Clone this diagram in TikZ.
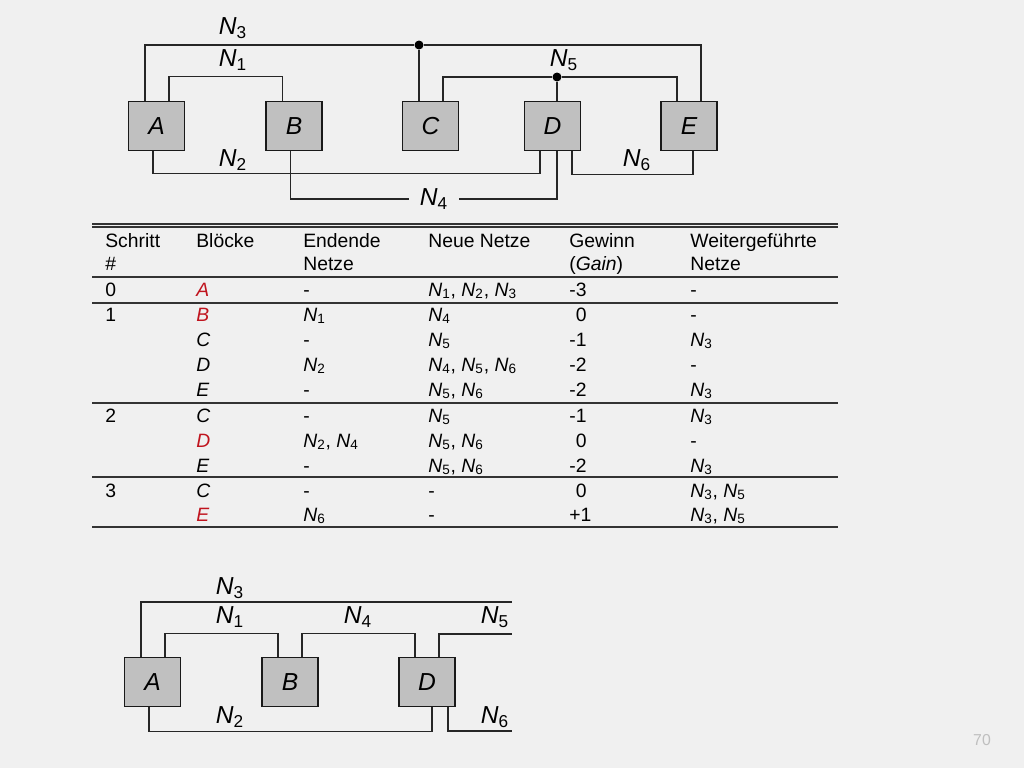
\documentclass[tikz,border=0pt]{standalone}
\usepackage{fontspec}
\setmainfont{Liberation Sans}
\usepackage{xcolor}
\usepackage{tikz}

\definecolor{bg}{RGB}{240,240,240}
\definecolor{blockgray}{RGB}{192,192,192}
\definecolor{hl}{RGB}{192,20,30}
\newcommand{\net}[1]{\textit{N}\textsubscript{#1}}

\begin{document}
\begin{tikzpicture}[x=0.02cm, y=-0.02cm,
  block/.style={draw=black!90, line width=1.1pt, fill=blockgray, minimum width=1.12cm,
    minimum height=0.98cm, inner sep=0pt, font=\fontsize{14}{16}\selectfont\itshape},
  wire/.style={line width=0.6pt, black!85},
  lbl/.style={inner sep=1pt, font=\fontsize{14}{16}\selectfont},
  cell/.style={anchor=base west, inner sep=0pt, font=\fontsize{11}{13}\selectfont},
  rule/.style={line width=0.8pt, black!80},
  dot/.style={circle, fill=black, inner sep=0pt, minimum size=0.18cm}]
  \fill[bg] (0,0) rectangle (1024,768);

  % Blocks (full netlist)
  \foreach \n/\x in {A/156.5,B/294,C/430.5,D/552.5,E/689}{
    \node[block] (\n) at (\x,126) {\n};
  }
  \node[dot] (j3) at (419,45) {};
  \node[dot] (j5) at (557,77) {};

  % Nets
  \draw[wire] ([xshift=-.23cm]A.north) |- (j3) -| ([xshift=.24cm]E.north);
  \draw[wire] (C.north -| j3) -- (j3);
  \draw[wire] ([xshift=.25cm]A.north) -- ++(0,.48cm) -| ([xshift=-.23cm]B.north);
  \draw[wire] ([xshift=.25cm]C.north) |- (j5) -| ([xshift=-.24cm]E.north);
  \draw[wire] (D.north -| j5) -- (j5);
  \draw[wire] ([xshift=-.07cm]A.south) -- ++(0,-.44cm) -| ([xshift=-.25cm]D.south);
  \node[lbl, inner xsep=6pt] (n4) at (434,199) {\net{4}};
  \draw[wire] ([xshift=-.07cm]B.south) |- (n4.west);
  \draw[wire] (n4.east) -| ([xshift=.09cm]D.south);
  \draw[wire] ([xshift=.39cm]D.south) -- ++(0,-.46cm) -| ([xshift=.08cm]E.south);

  % Net labels
  \node[lbl] (n3) at (233,28) {\net{3}};
  \node[lbl] (n1) at (233,60) {\net{1}};
  \node[lbl] (n5) at (564,60) {\net{5}};
  \node[lbl] (n2) at (233,160) {\net{2}};
  \node[lbl] (n6) at (637,160) {\net{6}};

  % Table
  \draw[rule] (92,224) -- (838,224);
  \draw[rule] (92,227) -- (838,227);
  \foreach \y in {277,303,403,477}{
    \draw[rule] (92,\y) -- (838,\y);
  }
  \draw[rule, line width=1.1pt] (92,527) -- (838,527);

  \node[cell] (h1) at (105,247) {Schritt};
  \node[cell] (h1b) at (105,270) {\#};
  \node[cell] (h2) at (196,247) {Blöcke};
  \node[cell] (h3) at (303,247) {Endende};
  \node[cell] (h3b) at (303,270) {Netze};
  \node[cell] (h4) at (428,247) {Neue Netze};
  \node[cell] (h5) at (569,247) {Gewinn};
  \node[cell] (h5b) at (569,270) {(\textit{Gain})};
  \node[cell] (h6) at (690,247) {Weitergeführte};
  \node[cell] (h6b) at (690,270) {Netze};

  \foreach \y/\s/\b/\e/\w/\g/\k in {
    296/0/{\color{hl}A}/-/{\net1, \net2, \net3}/-3/-,
    321/1/{\color{hl}B}/\net1/\net4/{\phantom{-}0}/-,
    346//C/-/\net5/-1/\net3,
    371//D/\net2/{\net4, \net5, \net6}/-2/-,
    396//E/-/{\net5, \net6}/-2/\net3,
    422/2/C/-/\net5/-1/\net3,
    447//{\color{hl}D}/{\net2, \net4}/{\net5, \net6}/{\phantom{-}0}/-,
    472//E/-/{\net5, \net6}/-2/\net3,
    497/3/C/-/-/{\phantom{-}0}/{\net3, \net5},
    521//{\color{hl}E}/\net6/-/+1/{\net3, \net5}}{
    \node[cell] (s\y) at (105,\y) {\s};
    \node[cell] (b\y) at (196,\y) {\textit{\b}};
    \node[cell] (e\y) at (303,\y) {\e};
    \node[cell] (w\y) at (428,\y) {\w};
    \node[cell] (g\y) at (569,\y) {\g};
    \node[cell] (k\y) at (690,\y) {\k};
  }

  % Blocks (after step 2)
  \foreach \n/\x in {A/152.5,B/290,D/427}{
    \node[block] (r\n) at (\x,682) {\n};
  }
  \coordinate (e3) at (512,602);
  \coordinate (e5) at (512,634);
  \coordinate (e6) at (512,731);

  \draw[wire] ([xshift=-.23cm]rA.north) |- (e3);
  \draw[wire] ([xshift=.25cm]rA.north) -- ++(0,.46cm) -| ([xshift=-.24cm]rB.north);
  \draw[wire] ([xshift=.24cm]rB.north) -- ++(0,.46cm) -| ([xshift=-.24cm]rD.north);
  \draw[wire] ([xshift=.24cm]rD.north) |- (e5);
  \draw[wire] ([xshift=-.07cm]rA.south) -- ++(0,-.48cm) -| ([xshift=.1cm]rD.south);
  \draw[wire] ([xshift=.42cm]rD.south) |- (e6);

  \node[lbl] (m3) at (230,588) {\net{3}};
  \node[lbl] (m1) at (230,617) {\net{1}};
  \node[lbl] (m4) at (358,617) {\net{4}};
  \node[lbl] (m5) at (495,617) {\net{5}};
  \node[lbl] (m2) at (230,717) {\net{2}};
  \node[lbl] (m6) at (495,717) {\net{6}};

  \node[text=black!25, font=\fontsize{9}{10}\selectfont] (pg) at (982,740) {70};
\end{tikzpicture}
\end{document}
